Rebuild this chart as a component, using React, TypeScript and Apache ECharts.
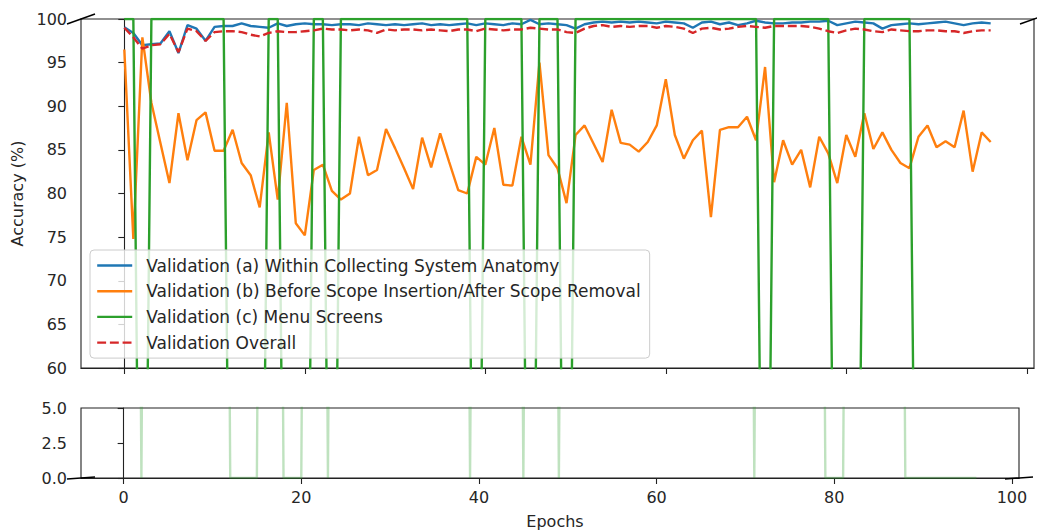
import React, { useEffect, useRef } from "react";
import * as echarts from "echarts";

// Epoch index 0..96 (x positions of the 97 validation points)
const epochs = Array.from({ length: 97 }, (_, i) => i);
const xTickValues = [0, 20, 40, 60, 80, 100];

const seriesNames = [
  "Validation (a) Within Collecting System Anatomy",
  "Validation (b) Before Scope Insertion/After Scope Removal",
  "Validation (c) Menu Screens",
  "Validation Overall",
];

const withinAnatomy = [
  99.05, 98.4, 97.0, 97.1, 97.2, 98.6, 96.1, 99.3, 98.9, 97.5,
  99.1, 99.2, 99.2, 99.5, 99.2, 99.1, 99.0, 99.5, 99.2, 99.4,
  99.5, 99.4, 99.4, 99.3, 99.4, 99.4, 99.3, 99.5, 99.4, 99.3,
  99.4, 99.3, 99.4, 99.5, 99.3, 99.4, 99.3, 99.4, 99.5, 99.3,
  99.5, 99.4, 99.3, 99.5, 99.4, 99.9, 99.4, 99.5, 99.4, 99.3,
  98.9, 99.4, 99.6, 99.7, 99.6, 99.7, 99.6, 99.7, 99.6, 99.5,
  99.7, 99.6, 99.5, 99.0, 99.6, 99.7, 99.4, 99.6, 99.3, 99.5,
  99.8, 99.6, 99.5, 99.5, 99.6, 99.6, 99.7, 99.7, 99.8, 99.3,
  99.5, 99.7, 99.6, 99.5, 98.9, 99.3, 99.4, 99.5, 99.4, 99.5,
  99.6, 99.7, 99.5, 99.3, 99.5, 99.6, 99.5,
];

const beforeAfterScope = [
  96.5, 74.8, 97.9, 90.4, 85.8, 81.2, 89.2, 83.8, 88.4, 89.3,
  84.9, 84.9, 87.3, 83.5, 82.1, 78.4, 87.0, 79.3, 90.4, 76.6,
  75.2, 82.7, 83.3, 80.3, 79.3, 80.0, 86.5, 82.1, 82.7, 87.4,
  85.2, 82.9, 80.5, 86.4, 83.0, 86.9, 83.6, 80.4, 80.0, 84.2,
  83.3, 87.5, 81.0, 80.9, 86.5, 83.3, 95.0, 84.4, 82.9, 78.9,
  86.7, 87.8, 85.7, 83.6, 89.6, 85.8, 85.6, 84.8, 85.9, 87.8,
  93.1, 86.7, 84.0, 86.1, 87.2, 77.3, 87.3, 87.6, 87.6, 88.8,
  86.1, 94.5, 81.3, 86.1, 83.3, 85.0, 80.7, 86.5, 84.6, 81.2,
  86.7, 84.2, 89.2, 85.1, 87.0, 85.0, 83.5, 82.9, 86.5, 87.8,
  85.3, 86.0, 85.3, 89.5, 82.5, 87.0, 85.9,
];

const menuScreens = [
  100, 100, 0, 100, 100, 100, 100, 100, 100, 100,
  100, 100, 0, 0, 0, 0, 100, 100, 0, 0,
  0, 100, 100, 0, 100, 100, 100, 100, 100, 100,
  100, 100, 100, 100, 100, 100, 100, 100, 100, 0,
  100, 100, 100, 100, 100, 0, 100, 100, 100, 0,
  100, 100, 100, 100, 100, 100, 100, 100, 100, 100,
  100, 100, 100, 100, 100, 100, 100, 100, 100, 100,
  100, 0, 100, 100, 100, 100, 100, 100, 100, 0,
  0, 0, 100, 100, 100, 100, 100, 100, 0, 0,
  0, 0, 0, 0, 0, 0, 0,
];

const overall = [
  99.0, 97.9, 96.6, 97.0, 97.1, 98.3, 96.2, 98.9, 98.6, 97.5,
  98.5, 98.6, 98.6, 98.5, 98.2, 98.0, 98.4, 98.6, 98.5, 98.5,
  98.6, 98.7, 98.9, 98.8, 98.8, 98.7, 98.8, 98.7, 98.4, 98.8,
  98.7, 98.8, 98.8, 98.7, 98.8, 98.7, 98.6, 98.8, 98.8, 98.6,
  98.9, 98.8, 98.7, 98.8, 98.8, 99.0, 98.9, 98.8, 98.8, 98.5,
  98.4, 98.9, 99.2, 99.3, 99.1, 99.2, 99.1, 99.2, 99.2, 99.0,
  99.2, 99.1, 98.9, 98.4, 98.9, 99.0, 98.8, 98.9, 99.1, 99.2,
  99.1, 99.0, 99.2, 99.2, 99.2, 99.2, 99.1, 98.9, 98.6, 98.4,
  98.7, 98.9, 98.8, 98.6, 98.5, 98.8, 98.7, 98.6, 98.6, 98.7,
  98.7, 98.6, 98.6, 98.4, 98.6, 98.7, 98.7,
];

const colors = ["#1f77b4", "#ff7f0e", "#2ca02c", "#d62728"];

export default function App() {
  const ref = useRef<HTMLDivElement>(null);

  useEffect(() => {
    document.body.style.margin = "0";
    const chart = echarts.init(ref.current as HTMLDivElement, null, { renderer: "svg" });
    const font = "DejaVu Sans";
    const ink = "#222222";
    const pts = (arr: number[]) => epochs.map((e, i) => [e, arr[i]]);

    const lineSeries = (name: string, arr: number[], color: string, extra: any = {}) => ({
      name,
      type: "line",
      xAxisIndex: 0,
      yAxisIndex: 0,
      data: pts(arr),
      symbol: "none",
      showSymbol: false,
      lineStyle: { color, width: 2.4, ...(extra.lineStyle || {}) },
      itemStyle: { color },
      z: 2,
    });

    const breakLine = (x1: number, y1: number, x2: number, y2: number) => ({
      type: "line",
      shape: { x1, y1, x2, y2 },
      style: { stroke: "#000", lineWidth: 1.5 },
      z: 100,
    });

    const option: any = {
      animation: false,
      textStyle: { fontFamily: font },
      grid: [
        { left: 81, top: 19, width: 953, height: 349, show: true, borderColor: ink, borderWidth: 1.1, backgroundColor: "transparent" },
        { left: 81, top: 408, width: 938, height: 70, show: true, borderColor: ink, borderWidth: 1.1, backgroundColor: "transparent" },
      ],
      xAxis: [
        {
          gridIndex: 0,
          type: "value",
          min: -4.8,
          max: 100.8,
          axisLine: { show: true, lineStyle: { color: ink, width: 1.1 } },
          axisTick: { show: true, customValues: xTickValues, length: 6, lineStyle: { color: ink, width: 1.1 } },
          axisLabel: { show: false },
          splitLine: { show: false },
        },
        {
          gridIndex: 1,
          type: "value",
          min: -4.8,
          max: 100.8,
          axisLine: { show: true, lineStyle: { color: ink, width: 1.1 } },
          axisTick: { show: true, customValues: xTickValues, length: 6, lineStyle: { color: ink, width: 1.1 } },
          axisLabel: { show: true, customValues: xTickValues, fontSize: 16, color: "#262626", margin: 11, fontFamily: font },
          splitLine: { show: false },
          name: "Epochs",
          nameLocation: "middle",
          nameGap: 35,
          nameTextStyle: { fontSize: 16, color: "#262626", fontFamily: font, padding: [0, 0, 0, 10] },
        },
      ],
      yAxis: [
        {
          gridIndex: 0,
          type: "value",
          min: 60,
          max: 100,
          interval: 5,
          axisLine: { show: true, lineStyle: { color: ink, width: 1.1 } },
          axisTick: { show: true, length: 6, lineStyle: { color: ink, width: 1.1 } },
          axisLabel: { fontSize: 16, color: "#262626", margin: 14, fontFamily: font },
          splitLine: { show: false },
          name: "Accuracy (%)",
          nameLocation: "middle",
          nameRotate: 90,
          nameGap: 55,
          nameTextStyle: { fontSize: 16, color: "#262626", fontFamily: font },
        },
        {
          gridIndex: 1,
          type: "value",
          min: 0,
          max: 5,
          interval: 2.5,
          axisLine: { show: true, lineStyle: { color: ink, width: 1.1 } },
          axisTick: { show: true, length: 6, lineStyle: { color: ink, width: 1.1 } },
          axisLabel: {
            fontSize: 16,
            color: "#262626",
            margin: 14,
            fontFamily: font,
            formatter: (v: number) => v.toFixed(1),
          },
          splitLine: { show: false },
        },
      ],
      legend: {
        data: seriesNames,
        orient: "vertical",
        left: 90,
        top: 250,
        padding: [7, 9, 7, 6],
        itemWidth: 35,
        itemHeight: 17,
        itemGap: 8.7,
        backgroundColor: "rgba(255,255,255,0.8)",
        borderColor: "#cccccc",
        borderWidth: 1,
        borderRadius: 4,
        itemStyle: { opacity: 0 },
        lineStyle: { width: 2.4 },
        textStyle: { fontSize: 17, color: "#262626", fontFamily: font, padding: [0, 0, 0, 9] },
        z: 10,
      },
      series: [
        lineSeries(seriesNames[0], withinAnatomy, colors[0]),
        lineSeries(seriesNames[1], beforeAfterScope, colors[1]),
        lineSeries(seriesNames[2], menuScreens, colors[2]),
        lineSeries(seriesNames[3], overall, colors[3], { lineStyle: { type: [8.9, 3.8] } }),
        {
          name: "menu-lower",
          type: "line",
          xAxisIndex: 1,
          yAxisIndex: 1,
          data: pts(menuScreens),
          symbol: "none",
          showSymbol: false,
          lineStyle: { color: colors[2], width: 2.4, opacity: 0.3 },
          itemStyle: { color: colors[2] },
          z: 5,
        },
      ],
      graphic: [
        breakLine(67, 24, 95, 14),
        breakLine(1020, 24, 1048, 14),
        breakLine(67, 479, 95, 477),
        breakLine(1005, 479, 1033, 477),
      ],
    };

    chart.setOption(option);
    return () => chart.dispose();
  }, []);

  return (
    <div
      ref={ref}
      style={{ position: "fixed", left: 0, top: 0, width: 1037, height: 531, background: "#fff" }}
    />
  );
}
